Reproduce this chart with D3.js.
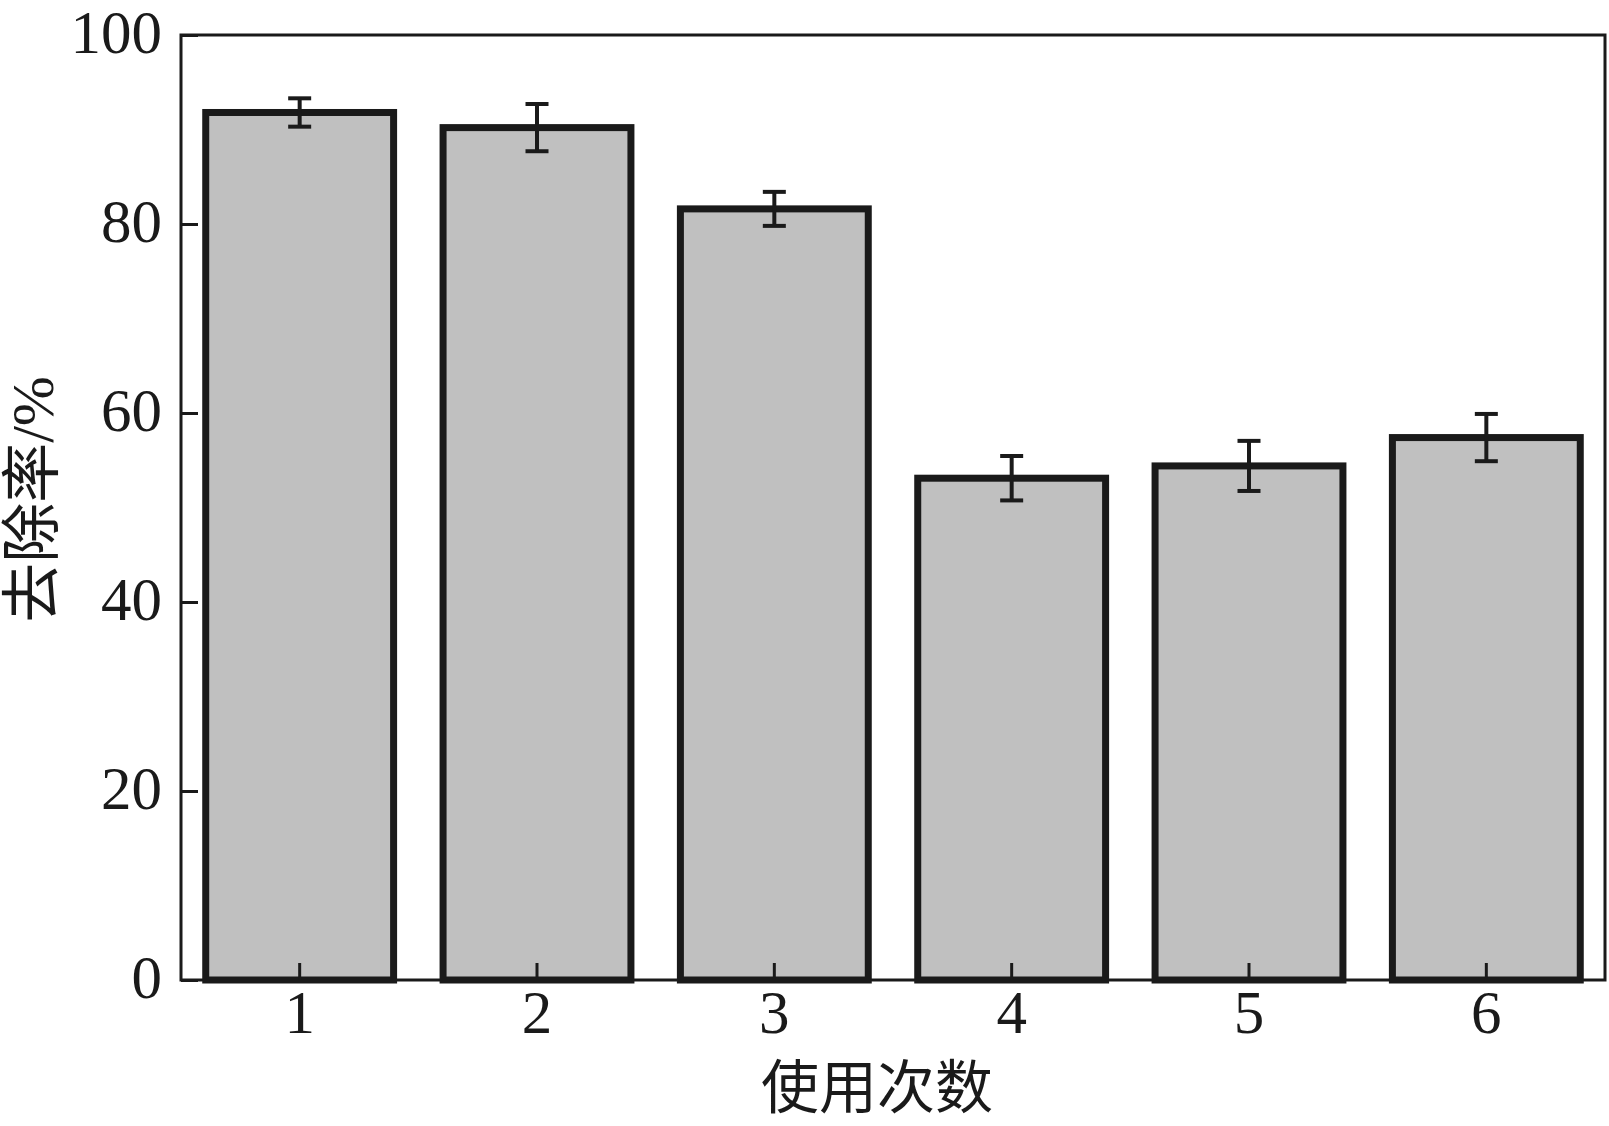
<!DOCTYPE html>
<html lang="zh">
<head>
    <meta charset="UTF-8">
    <title>去除率 vs 使用次数</title>
    <script src="https://d3js.org/d3.v7.min.js"></script>
    <style>
        body { margin: 0; background: #fff; }
        text { font-family: "Liberation Serif", "Noto Sans CJK SC", serif; fill: #1a1a1a; }
    </style>
</head>
<body>
    <div id="chart"></div>
    <script>
        const uses = ["1", "2", "3", "4", "5", "6"];
        const removal = [91.8, 90.2, 81.6, 53.1, 54.4, 57.4];
        const errors = [1.5, 2.5, 1.8, 2.35, 2.65, 2.5];
        const yTicks = [0, 20, 40, 60, 80, 100];

        const W = 1609, H = 1126;
        const margin = {top: 35, right: 4, bottom: 146, left: 181};
        const width = W - margin.left - margin.right,
              height = H - margin.top - margin.bottom;

        const svg = d3.select("#chart")
            .append("svg")
            .attr("width", W)
            .attr("height", H)
            .append("g")
            .attr("transform", `translate(${margin.left}, ${margin.top})`);

        const x = d3.scaleBand()
            .domain(uses)
            .range([0, width])
            .paddingInner(0.2)
            .paddingOuter(0.1);

        const y = d3.scaleLinear()
            .domain([0, 100])
            .range([height, 0]);

        // bars
        svg.selectAll("rect.bar")
            .data(uses)
            .join("rect")
            .attr("class", "bar")
            .attr("x", d => x(d) + 1)
            .attr("width", x.bandwidth() - 2)
            .attr("y", (d, i) => y(removal[i]))
            .attr("height", (d, i) => y(0) - y(removal[i]))
            .attr("fill", "#c0c0c0")
            .attr("stroke", "#1a1a1a")
            .attr("stroke-width", 7);

        // error bars
        const cap = 11.5;
        const err = svg.selectAll("g.err")
            .data(uses)
            .join("g")
            .attr("class", "err")
            .attr("stroke", "#1a1a1a")
            .attr("stroke-width", 4);
        err.append("line")
            .attr("x1", d => x(d) + x.bandwidth() / 2)
            .attr("x2", d => x(d) + x.bandwidth() / 2)
            .attr("y1", (d, i) => y(removal[i] + errors[i]))
            .attr("y2", (d, i) => y(removal[i] - errors[i]));
        err.append("line")
            .attr("x1", d => x(d) + x.bandwidth() / 2 - cap)
            .attr("x2", d => x(d) + x.bandwidth() / 2 + cap)
            .attr("y1", (d, i) => y(removal[i] + errors[i]))
            .attr("y2", (d, i) => y(removal[i] + errors[i]));
        err.append("line")
            .attr("x1", d => x(d) + x.bandwidth() / 2 - cap)
            .attr("x2", d => x(d) + x.bandwidth() / 2 + cap)
            .attr("y1", (d, i) => y(removal[i] - errors[i]))
            .attr("y2", (d, i) => y(removal[i] - errors[i]));

        // frame
        svg.append("rect")
            .attr("x", 0)
            .attr("y", 0)
            .attr("width", width)
            .attr("height", height)
            .attr("fill", "none")
            .attr("stroke", "#1a1a1a")
            .attr("stroke-width", 3);

        // axes with inward ticks
        const yAxis = svg.append("g")
            .call(d3.axisLeft(y).tickValues(yTicks).tickSizeInner(-17).tickSizeOuter(0).tickPadding(19));
        yAxis.select(".domain").remove();
        yAxis.selectAll("line").attr("stroke", "#1a1a1a").attr("stroke-width", 3);
        yAxis.selectAll("text")
            .attr("font-size", 61)
            .attr("dy", "0.28em")
            .attr("fill", "#1a1a1a");

        const xAxis = svg.append("g")
            .attr("transform", `translate(0, ${height})`)
            .call(d3.axisBottom(x).tickSizeInner(-17).tickSizeOuter(0).tickPadding(10));
        xAxis.select(".domain").remove();
        xAxis.selectAll("line").attr("stroke", "#1a1a1a").attr("stroke-width", 3);
        xAxis.selectAll("text")
            .attr("font-size", 61)
            .attr("fill", "#1a1a1a");

        // axis titles
        svg.append("text")
            .attr("x", 696)
            .attr("y", height + 128)
            .attr("text-anchor", "middle")
            .attr("font-size", 58)
            .text("使用次数");

        svg.append("text")
            .attr("transform", `translate(${-128}, ${height / 2 - 8}) rotate(-90)`)
            .attr("text-anchor", "middle")
            .attr("font-size", 60)
            .text("去除率/%");
    </script>
</body>
</html>
